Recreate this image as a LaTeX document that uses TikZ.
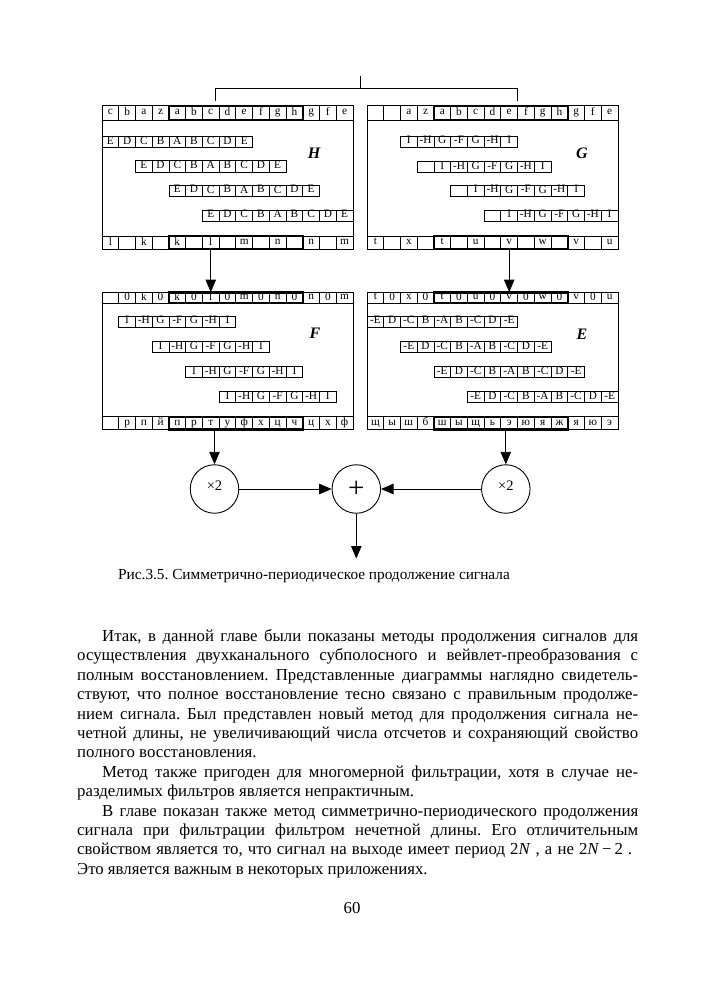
\documentclass[tikz,border=0pt]{standalone}
\usepackage{fontspec}
\setmainfont{Liberation Serif}
\usetikzlibrary{arrows.meta}
\frenchspacing
\newcommand\cellw{16.73}
\newcommand\cellrow[6]{%
  \foreach \cc [count=\cn from 0] in {#6} {
    \node[cell, minimum height=#4pt] (#1-\cn) at ({#2+(#5+\cn+0.5)*\cellw},{#3+#4/2}) {\strut\cc};
  }%
}
\newcommand\sigbox[8]{%
  \draw[boxline] (#2,#3) rectangle ({#2+15*\cellw},{#5+#6});
  \cellrow{#1t}{#2}{#3}{#4}{0}{#7}
  \cellrow{#1b}{#2}{#5}{#6}{0}{#8}
  \draw[boldbox] ({#2+4*\cellw},#3) rectangle ({#2+12*\cellw},{#3+#4});
  \draw[boldbox] ({#2+4*\cellw},#5) rectangle ({#2+12*\cellw},{#5+#6});
}
\begin{document}
\begin{tikzpicture}[x=1pt,y=-1pt,
  cell/.style={draw, line width=0.7pt, minimum width=16.73pt, inner sep=0pt, anchor=center,
    font=\fontsize{11.3}{10}\selectfont},
  boxline/.style={line width=0.8pt},
  boldbox/.style={line width=2.2pt},
  arr/.style={-{Triangle[length=12.5pt,width=10.5pt]}, line width=0.9pt},
  lbl/.style={font=\fontsize{16}{16}\selectfont\bfseries\itshape},
  circ/.style={draw, circle, minimum size=48.5pt, inner sep=0pt, line width=0.9pt},
  txt/.style={font=\fontsize{16.8}{19.4}\selectfont, anchor=base west, inner sep=0pt},
]
\useasboundingbox[fill=white] (0,0) rectangle (706,1000);

% ---------- H ----------
\sigbox{H}{102}{105.7}{14.3}{236}{13.3}{c,b,a,z,a,b,c,d,e,f,g,h,g,f,e}{l,{},k,{},k,{},l,{},m,{},n,{},n,{},m}
\cellrow{Hr1}{102}{136.5}{11.2}{0}{E,D,C,B,A,B,C,D,E}
\cellrow{Hr2}{102}{160.8}{11.2}{2}{E,D,C,B,A,B,C,D,E}
\cellrow{Hr3}{102}{185.2}{11.2}{4}{E,D,C,B,A,B,C,D,E}
\cellrow{Hr4}{102}{210}{11.2}{6}{E,D,C,B,A,B,C,D,E}
\node[lbl] (Hl) at (314,153) {H};

% ---------- G ----------
\sigbox{G}{367}{105.7}{14.3}{236}{13.3}{{},{},a,z,a,b,c,d,e,f,g,h,g,f,e}{t,{},x,{},t,{},u,{},v,{},w,{},v,{},u}
\cellrow{Gr1}{367}{136}{11.2}{2}{I,-H,G,-F,G,-H,I}
\cellrow{Gr2}{367}{161.5}{11.2}{3}{{},I,-H,G,-F,G,-H,I}
\cellrow{Gr3}{367}{185.2}{11.2}{5}{{},I,-H,G,-F,G,-H,I}
\cellrow{Gr4}{367}{210}{11.2}{7}{{},I,-H,G,-F,G,-H,I}
\node[lbl] (Gl) at (582,153) {G};

% ---------- F ----------
\sigbox{F}{102}{292.5}{10.8}{416.7}{12.8}{{},0,k,0,k,0,l,0,m,0,n,0,n,0,m}{{},р,п,й,п,р,т,у,ф,х,ц,ч,ц,х,ф}
\cellrow{Fr1}{102}{316}{11}{1}{I,-H,G,-F,G,-H,I}
\cellrow{Fr2}{102}{341.5}{11}{3}{I,-H,G,-F,G,-H,I}
\cellrow{Fr3}{102}{366.7}{11}{5}{I,-H,G,-F,G,-H,I}
\cellrow{Fr4}{102}{391.7}{11}{7}{I,-H,G,-F,G,-H,I}
\node[lbl] (Fl) at (315,333.5) {F};

% ---------- E ----------
\sigbox{E}{367}{292.5}{10.8}{416.7}{12.8}{t,0,x,0,t,0,u,0,v,0,w,0,v,0,u}{щ,ы,ш,б,ш,ы,щ,ь,э,ю,я,ж,я,ю,э}
\cellrow{Er1}{367}{316}{11}{0}{-E,D,-C,B,-A,B,-C,D,-E}
\cellrow{Er2}{367}{341.5}{11}{2}{-E,D,-C,B,-A,B,-C,D,-E}
\cellrow{Er3}{367}{366.7}{11}{4}{-E,D,-C,B,-A,B,-C,D,-E}
\cellrow{Er4}{367}{391.7}{11}{6}{-E,D,-C,B,-A,B,-C,D,-E}
\node[lbl] (El) at (582,334) {E};

% ---------- bracket ----------
\coordinate (bc) at (360,76);
\coordinate (bm) at (360,88);
\coordinate (bl) at (215,88);
\coordinate (br) at (517,88);
\coordinate (blb) at (215,101);
\coordinate (brb) at (517,101);
\draw[boxline] (bc) -- (bm);
\draw[boxline] (blb) -- (bl) -- (br) -- (brb);

% ---------- arrows between boxes ----------
\draw[arr] (Hb-6.south) -- (Ft-6.north);
\draw[arr] (Gb-8.south) -- (Et-8.north);

% ---------- circles ----------
\node[circ] (m1) at (214.5,489) {\raisebox{7pt}{\fontsize{14.5}{14.5}\selectfont ×2}};
\node[circ] (sum) at (356.3,489) {\fontsize{29}{29}\selectfont +};
\node[circ] (m2) at (505.8,489) {\raisebox{7pt}{\fontsize{14.5}{14.5}\selectfont ×2}};
\coordinate (out) at (356.3,558.5);
\draw[arr] (Fb-6.south -| m1) -- (m1);
\draw[arr] (Eb-8.south -| m2) -- (m2);
\draw[arr] (m1) -- (sum);
\draw[arr] (m2) -- (sum);
\draw[arr] (sum) -- (out);

% ---------- caption ----------
\node[txt, font=\fontsize{15.3}{18}\selectfont] (cap) at (118,579) {Рис.3.5. Симметрично-периодическое продолжение сигнала};

% ---------- body text ----------
\node[txt] (l1) at (102,641.5) {\makebox[536pt][s]{Итак, в данной главе были показаны методы продолжения сигналов для}};
\node[txt] (l2) at (77,660.9) {\makebox[561pt][s]{осуществления двухканального субполосного и вейвлет-преобразования с}};
\node[txt] (l3) at (77,680.3) {\makebox[561pt][s]{полным восстановлением. Представленные диаграммы наглядно свидетель-}};
\node[txt] (l4) at (77,699.7) {\makebox[561pt][s]{ствуют, что полное восстановление тесно связано с правильным продолже-}};
\node[txt] (l5) at (77,719.1) {\makebox[561pt][s]{нием сигнала. Был представлен новый метод для продолжения сигнала не-}};
\node[txt] (l6) at (77,738.5) {\makebox[561pt][s]{четной длины, не увеличивающий числа отсчетов и сохраняющий свойство}};
\node[txt] (l7) at (77,757.9) {полного восстановления.};
\node[txt] (l8) at (102,777.3) {\makebox[536pt][s]{Метод также пригоден для многомерной фильтрации, хотя в случае не-}};
\node[txt] (l9) at (77,796.7) {разделимых фильтров является непрактичным.};
\node[txt] (l10) at (102,816.1) {\makebox[536pt][s]{В главе показан также метод симметрично-периодического продолжения}};
\node[txt] (l11) at (77,835.5) {\makebox[561pt][s]{сигнала при фильтрации фильтром нечетной длины. Его отличительным}};
\node[txt] (l12) at (77,854.9) {\makebox[555pt][s]{свойством является то, что сигнал на выходе имеет период 2\textit{N} , а не 2\textit{N}\,−\,2 .}};
\node[txt] (l13) at (77,874.3) {Это является важным в некоторых приложениях.};
\node[txt, anchor=base] (pg) at (352,913) {60};
\end{tikzpicture}
\end{document}
